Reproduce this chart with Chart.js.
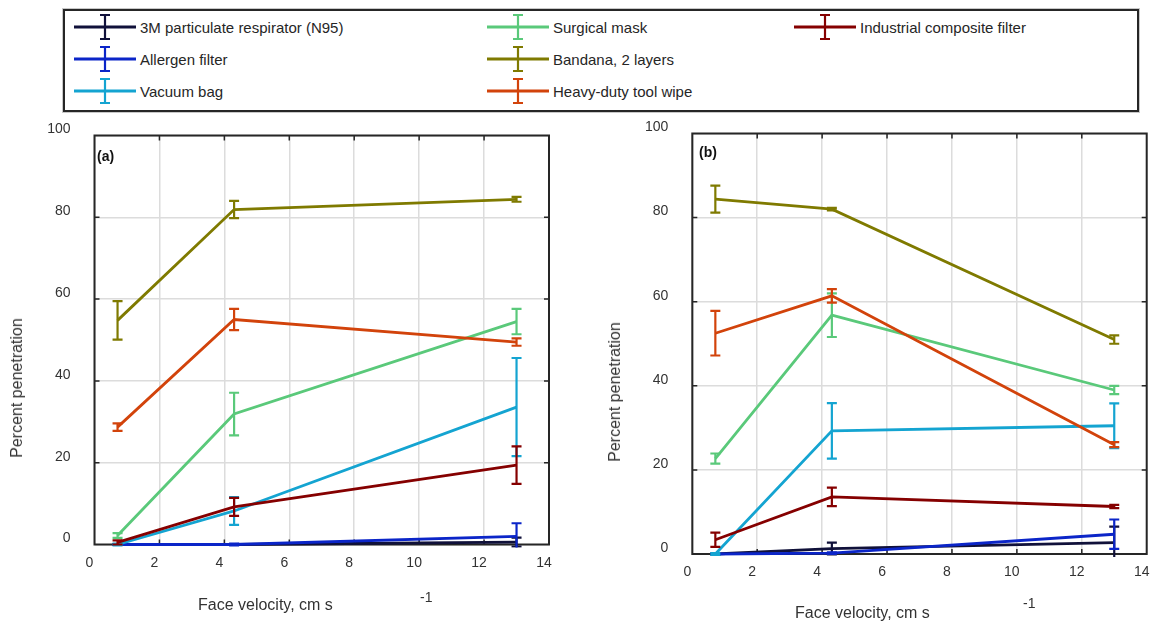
<!DOCTYPE html>
<html>
<head>
<meta charset="utf-8">
<script src="https://cdn.jsdelivr.net/npm/chart.js@4.4.0/dist/chart.umd.min.js"></script>
<style>
  body { margin: 0; background: #fff; }
  #page { position: relative; width: 1156px; height: 622px; overflow: hidden;
          font-family: "Liberation Sans", Arial, sans-serif; color: #333; }
  .abs { position: absolute; white-space: nowrap; line-height: 1; }
  #legend { position: absolute; left: 63px; top: 9px; width: 1076px; height: 103px;
            box-sizing: border-box; border: 2px solid #262626; box-shadow: 0 0 0 1px #c8c8c8; }
  .legtext { font-size: 15px; color: #262626; transform: translateY(-50%); }
  .ytitle { font-size: 16px; transform: translate(-50%, -50%) rotate(-90deg); }
  .xtitle { font-size: 16px; transform: translateY(-50%); }
  .sup { font-size: 14px; transform: translateY(-50%); }
  .panel { font-size: 14px; font-weight: bold; color: #111; transform: translateY(-50%); }
  canvas { position: absolute; }
</style>
</head>
<body>
<div id="page">
  <div id="legend"></div>
  <canvas id="chartA" width="578" height="502" style="left:0;top:120px"></canvas>
  <canvas id="chartB" width="576" height="510" style="left:580px;top:112px"></canvas>

  <div class="abs panel" style="left:97px;top:156px">(a)</div>
  <div class="abs panel" style="left:699px;top:152px">(b)</div>

  <div class="abs ytitle" style="left:17px;top:388px">Percent penetration</div>
  <div class="abs ytitle" style="left:615px;top:392px">Percent penetration</div>

  <div class="abs xtitle" style="left:198px;top:605px">Face velocity, cm s</div>
  <div class="abs sup" style="left:420px;top:597px">-1</div>
  <div class="abs xtitle" style="left:795px;top:613px">Face velocity, cm s</div>
  <div class="abs sup" style="left:1023px;top:603px">-1</div>
</div>

<script>
// x positions (face velocity, cm/s) shared by both panels
const velocity = [0.71, 4.3, 13.0]
const xTicks = [0, 2, 4, 6, 8, 10, 12, 14]
const yTicks = [0, 20, 40, 60, 80, 100]

const seriesNames = [
  "3M particulate respirator (N95)",
  "Allergen filter",
  "Vacuum bag",
  "Surgical mask",
  "Bandana, 2 layers",
  "Heavy-duty tool wipe",
  "Industrial composite filter",
]
const seriesColors = ["#10113a", "#0b25c8", "#14a4d1", "#5ac97a", "#7f7a00", "#d2430b", "#850000"]

// panel (a): mean percent penetration and error (+/-)
const n95A = [0, 0, 0.6]
const n95AErr = [0.1, 0.1, 1.1]
const allergenA = [0, 0, 2.0]
const allergenAErr = [0.1, 0.2, 3.2]
const vacuumA = [0, 8.2, 33.6]
const vacuumAErr = [0.2, 3.4, 12.0]
const surgicalA = [2.2, 31.9, 54.5]
const surgicalAErr = [0.6, 5.2, 3.1]
const bandanaA = [54.8, 81.9, 84.4]
const bandanaAErr = [4.7, 2.1, 0.6]
const wipeA = [28.7, 55.0, 49.5]
const wipeAErr = [0.9, 2.6, 0.9]
const industrialA = [0.5, 9.2, 19.4]
const industrialAErr = [0.5, 2.2, 4.6]

// panel (b)
const n95B = [0, 1.3, 2.7]
const n95BErr = [0.1, 1.4, 3.8]
const allergenB = [0, 0.2, 4.7]
const allergenBErr = [0.1, 0.2, 3.5]
const vacuumB = [0, 29.3, 30.5]
const vacuumBErr = [0.2, 6.6, 5.3]
const surgicalB = [22.7, 56.8, 39.0]
const surgicalBErr = [1.2, 5.2, 1.0]
const bandanaB = [84.4, 82.0, 51.0]
const bandanaBErr = [3.2, 0.3, 1.0]
const wipeB = [52.5, 61.4, 26.0]
const wipeBErr = [5.3, 1.6, 0.6]
const industrialB = [3.4, 13.6, 11.3]
const industrialBErr = [1.7, 2.2, 0.4]

const meansA = [n95A, allergenA, vacuumA, surgicalA, bandanaA, wipeA, industrialA]
const errsA = [n95AErr, allergenAErr, vacuumAErr, surgicalAErr, bandanaAErr, wipeAErr, industrialAErr]
const meansB = [n95B, allergenB, vacuumB, surgicalB, bandanaB, wipeB, industrialB]
const errsB = [n95BErr, allergenBErr, vacuumBErr, surgicalBErr, bandanaBErr, wipeBErr, industrialBErr]

const FRAME = "#262626"
const CAP = 10

// box around the axes plus inward tick marks (drawn under the data, like MATLAB)
const framePlugin = {
  id: "frame",
  beforeDatasetsDraw(chart) {
    const { ctx, chartArea: a, scales } = chart
    ctx.save()
    ctx.strokeStyle = FRAME
    ctx.lineWidth = 1.5
    ctx.beginPath()
    xTicks.slice(1, -1).forEach((v) => {
      const x = scales.x.getPixelForValue(v)
      ctx.moveTo(x, a.bottom); ctx.lineTo(x, a.bottom - 5)
      ctx.moveTo(x, a.top); ctx.lineTo(x, a.top + 5)
    })
    yTicks.slice(1, -1).forEach((v) => {
      const y = scales.y.getPixelForValue(v)
      ctx.moveTo(a.left, y); ctx.lineTo(a.left + 5, y)
      ctx.moveTo(a.right, y); ctx.lineTo(a.right - 5, y)
    })
    ctx.stroke()
    ctx.lineWidth = 2
    ctx.strokeRect(a.left, a.top, a.right - a.left, a.bottom - a.top)
    ctx.restore()
  },
}

// vertical error bars with caps, drawn right after each line
const errorBarPlugin = {
  id: "errorBars",
  afterDatasetDraw(chart, args) {
    const ds = chart.data.datasets[args.index]
    if (!ds.errors) return
    const { ctx, chartArea: a } = chart
    const yScale = chart.scales.y
    ctx.save()
    ctx.beginPath()
    ctx.rect(a.left - 3, a.top - 3, a.right - a.left + 6, a.bottom - a.top + 6)
    ctx.clip()
    ctx.strokeStyle = ds.borderColor
    ctx.lineWidth = 2.2
    ctx.beginPath()
    args.meta.data.forEach((pt, i) => {
      const v = ds.data[i].y
      const e = ds.errors[i]
      const yTop = yScale.getPixelForValue(v + e)
      const yBot = yScale.getPixelForValue(v - e)
      ctx.moveTo(pt.x, yTop); ctx.lineTo(pt.x, yBot)
      ctx.moveTo(pt.x - CAP / 2, yTop); ctx.lineTo(pt.x + CAP / 2, yTop)
      ctx.moveTo(pt.x - CAP / 2, yBot); ctx.lineTo(pt.x + CAP / 2, yBot)
    })
    ctx.stroke()
    ctx.restore()
  },
}

function makeChart(id, means, errs, layout) {
  const datasets = means.map((vals, i) => ({
    label: seriesNames[i],
    data: vals.map((v, j) => ({ x: velocity[j], y: v })),
    errors: errs[i],
    borderColor: seriesColors[i],
    backgroundColor: seriesColors[i],
    borderWidth: 2.8,
    pointRadius: 0,
    tension: 0,
    clip: 3,
    order: means.length - i, // later series on top
  }))

  const tickFont = { family: "'Liberation Sans', Arial, sans-serif", size: 14 }

  return new Chart(document.getElementById(id), {
    type: "line",
    data: { datasets },
    options: {
      responsive: false,
      animation: false,
      events: [],
      layout: { padding: layout.padding },
      plugins: { legend: { display: false }, tooltip: { enabled: false } },
      scales: {
        x: {
          type: "linear",
          min: 0,
          max: 14,
          afterBuildTicks: (s) => { s.ticks = xTicks.map((v) => ({ value: v })) },
          afterFit: (s) => {
            s.height = layout.xHeight
            s.paddingLeft = 0
            s.paddingRight = 0
          },
          grid: { color: "#dcdcdc", lineWidth: 1.5, drawTicks: false },
          border: { display: false },
          ticks: { color: "#333", font: tickFont, padding: 10, labelOffset: -5, maxRotation: 0 },
        },
        y: {
          type: "linear",
          min: 0,
          max: 100,
          afterBuildTicks: (s) => { s.ticks = yTicks.map((v) => ({ value: v })) },
          afterFit: (s) => {
            s.width = layout.yWidth
            s.paddingTop = 0
            s.paddingBottom = 0
          },
          grid: { color: "#dcdcdc", lineWidth: 1.5, drawTicks: false },
          border: { display: false },
          ticks: { color: "#333", font: tickFont, padding: layout.yPad, labelOffset: -6 },
        },
      },
    },
    plugins: [framePlugin, errorBarPlugin],
  })
}

makeChart("chartA", meansA, errsA, {
  padding: { left: 0, top: 15.5, right: 29, bottom: 0 },
  yWidth: 94.5,
  xHeight: 77.5,
  yPad: 24,
})

makeChart("chartB", meansB, errsB, {
  padding: { left: 0, top: 21.5, right: 9.3, bottom: 0 },
  yWidth: 112.3,
  xHeight: 68,
  yPad: 24,
})

// legend: three columns, error-bar glyph + label
const page = document.getElementById("page")
const iconLeft = [74, 487, 794]
const textLeft = [140, 553, 860]
const rowY = [27, 58.5, 90.5]
seriesNames.forEach((name, i) => {
  const col = Math.floor(i / 3)
  const row = i % 3
  const icon = document.createElement("canvas")
  icon.width = 62
  icon.height = 28
  icon.style.left = iconLeft[col] + "px"
  icon.style.top = rowY[row] - 14 + "px"
  const c = icon.getContext("2d")
  c.strokeStyle = seriesColors[i]
  c.lineWidth = 2.8
  c.beginPath()
  c.moveTo(0, 14); c.lineTo(62, 14)
  c.stroke()
  c.lineWidth = 2.2
  c.beginPath()
  c.moveTo(31, 2); c.lineTo(31, 26)
  c.moveTo(26, 2); c.lineTo(36, 2)
  c.moveTo(26, 26); c.lineTo(36, 26)
  c.stroke()
  page.appendChild(icon)

  const t = document.createElement("div")
  t.className = "abs legtext"
  t.style.left = textLeft[col] + "px"
  t.style.top = rowY[row] + "px"
  t.textContent = name
  page.appendChild(t)
})
</script>
</body>
</html>
